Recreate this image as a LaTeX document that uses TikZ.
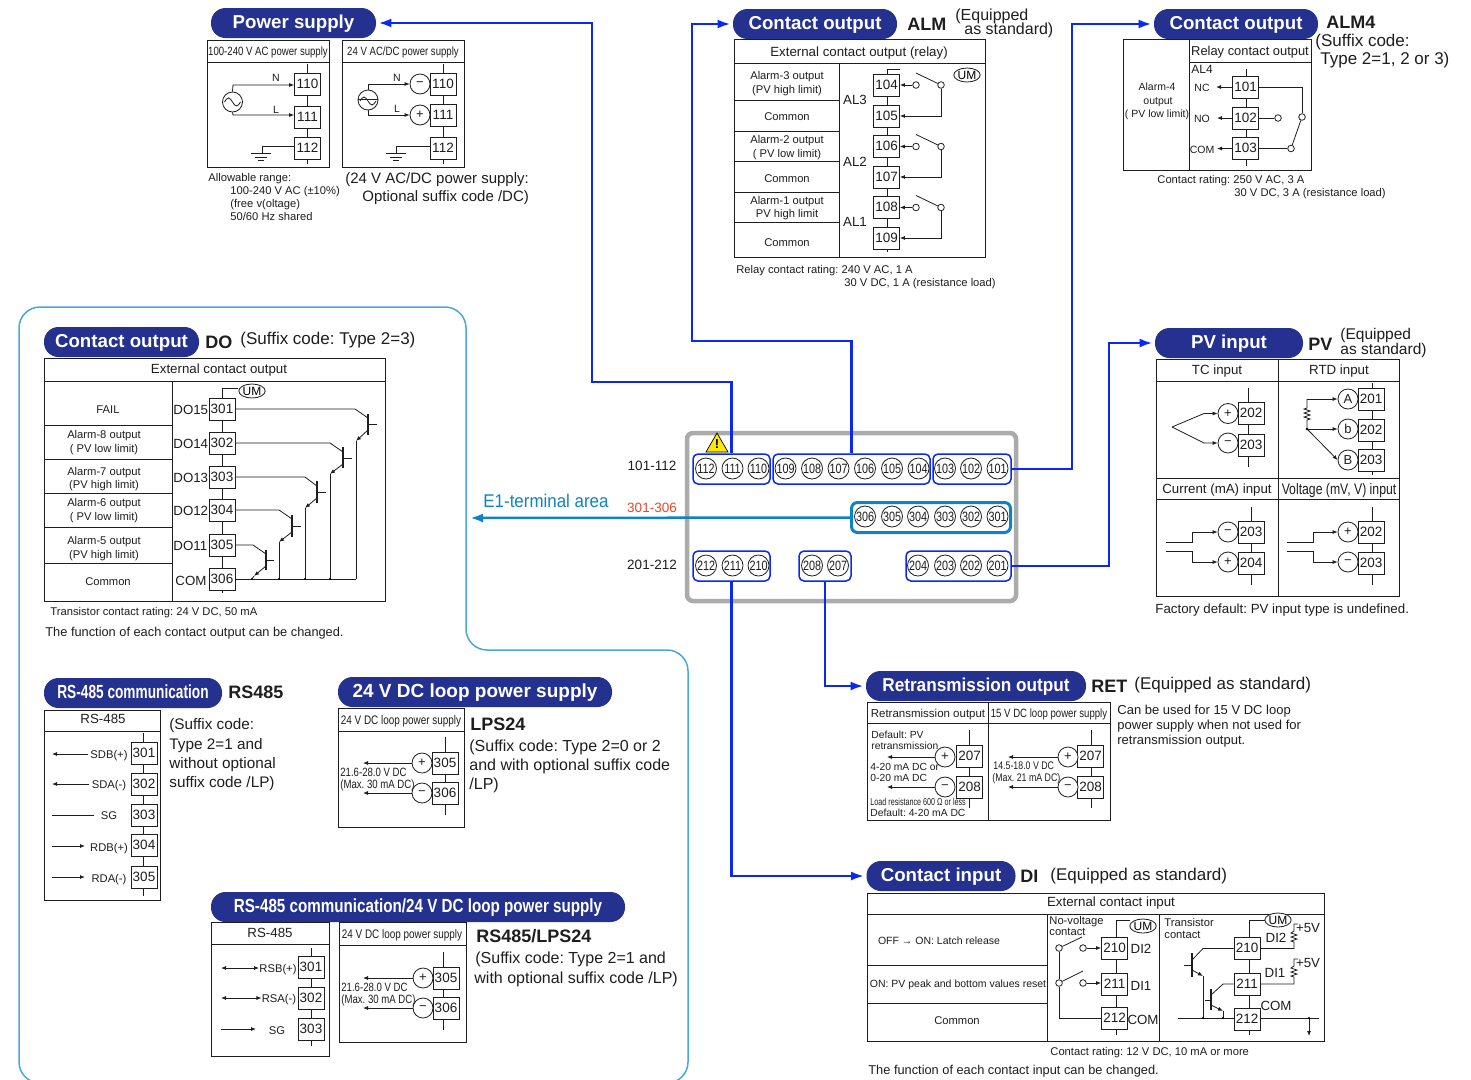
\documentclass[tikz,border=0pt]{standalone}
\usepackage{fontspec}
\setmainfont{Liberation Sans}
\newfontfamily\narrowfont[FakeStretch=0.8]{Liberation Sans}
\newfontfamily\semifont[FakeStretch=0.92]{Liberation Sans}
\newfontfamily\tightfont[FakeStretch=0.72]{Liberation Sans}
\usetikzlibrary{arrows.meta,shapes.geometric}
\frenchspacing
\definecolor{navy}{HTML}{24318F}
\definecolor{feedblue}{HTML}{0A28F0}
\definecolor{areablue}{HTML}{0F82C6}
\definecolor{edgeblue}{HTML}{4AA8D8}
\definecolor{inkgray}{HTML}{1E1E1E}
\definecolor{rimgray}{HTML}{ABABAB}
\definecolor{redlabel}{HTML}{E8472B}
\tikzset{
  fa/.style={font=\fontsize{10.5}{10.5}\selectfont},
  fb/.style={font=\fontsize{11.2}{11.2}\selectfont},
  fc/.style={font=\fontsize{13.3}{13.3}\selectfont},
  fd/.style={font=\fontsize{16}{16}\selectfont,text height=.95em},
  fe/.style={font=\fontsize{17}{17}\selectfont,text height=.95em},
  fn/.style={font=\fontsize{12}{12}\narrowfont},
  fh/.style={font=\fontsize{18}{18}\bfseries\selectfont,text height=1em},
  lab/.style={anchor=west,inner sep=0pt,text height=.8em,text depth=0pt,text=inkgray},
  mid/.style={inner sep=0pt,text height=.8em,text depth=0pt,text=inkgray},
  pill/.style={fill=navy,rounded corners=14.5pt,text=white,minimum height=30pt,inner sep=0pt,
    text height=1em,text depth=0pt,font=\fontsize{18.7}{18.7}\bfseries\selectfont},
  termbox/.style={draw,fill=white,minimum width=26pt,minimum height=22pt,inner sep=0pt,text=inkgray,
    text height=.85em,text depth=0pt,font=\fontsize{13.5}{13.5}\selectfont},
  pole/.style={draw,circle,fill=white,minimum size=20pt,inner sep=0pt,text=inkgray,
    font=\fontsize{13}{13}\selectfont},
  pin/.style={draw,circle,fill=white,minimum size=21pt,inner sep=0pt,text=inkgray,
    font=\fontsize{13.5}{13.5}\narrowfont},
  ring/.style={draw,circle,fill=white,minimum size=6.6pt,inner sep=0pt},
  um/.style={draw,ellipse,fill=white,minimum width=26pt,minimum height=14pt,inner sep=0pt,
    font=\fontsize{12}{12}\selectfont},
  arr/.style={-{Latex[length=5pt,width=4pt]}},
  bothway/.style={{Latex[length=5pt,width=4pt]}-{Latex[length=5pt,width=4pt]}},
  feed/.style={draw=feedblue,line width=2.5pt,-{Latex[length=13pt,width=9pt]},shorten >=2pt},
  grp/.style={draw=feedblue,line width=1.5pt,rounded corners=5pt,inner sep=0pt,minimum height=30pt},
}
\begin{document}
\begin{tikzpicture}[x=1pt,y=-1pt,line width=.8pt,draw=inkgray]
\useasboundingbox (0,0) rectangle (1471,1079);
\fill[white] (0,0) rectangle (1471,1079);

% outline of the optional block
\begin{scope}
\clip (0,0) rectangle (1471,1079);
\draw[edgeblue,line width=1.5pt,rounded corners=21pt] (19,1083) -- (19,307) -- (466,307) -- (466,650) -- (688,650) -- (688,1083) -- cycle;
\end{scope}

% heads
\node[pill,minimum width=165pt] (pillPower) at (293.5,23) {Power supply};
\node[pill,minimum width=164pt] (pillAlm) at (815,24) {Contact output};
\node[pill,minimum width=164pt] (pillAlmF) at (1236,24) {Contact output};
\node[pill,minimum width=155pt] (pillDo) at (121.5,342) {Contact output};
\node[pill,minimum width=148pt] (pillPv) at (1229,343) {PV input};
\node[pill,minimum width=178pt,font=\fontsize{19}{19}\bfseries\tightfont] (pillRs) at (133,693) {RS-485 communication};
\node[pill,minimum width=274pt,font=\fontsize{19}{19}\bfseries\selectfont] (pillLoop) at (475,692) {24 V DC loop power supply};
\node[pill,minimum width=414pt,font=\fontsize{19}{19}\bfseries\narrowfont] (pillRsLoop) at (418,907) {RS-485 communication/24 V DC loop power supply};
\node[pill,minimum width=220pt,font=\fontsize{18.7}{18.7}\bfseries\semifont] (pillRet) at (976,686) {Retransmission output};
\node[pill,minimum width=149pt] (pillDi) at (941,876) {Contact input};

% terminal block
\draw[rimgray,line width=4.5pt,fill=white,rounded corners=6pt] (687,433) rectangle (1016,601);
\fill[yellow!90!orange,draw=black,line width=.7pt] (717,433) -- (728,452) -- (706,452) -- cycle;
\node[inner sep=0pt,font=\fontsize{13}{13}\bfseries\selectfont] (warnMark) at (717,444) {!};

\node[grp,minimum width=77pt] (grpA) at (731.5,469) {};
\node[grp,minimum width=157pt] (grpB) at (851.5,469) {};
\node[grp,minimum width=78pt] (grpC) at (972,469) {};
\node[draw=areablue,line width=3pt,rounded corners=6pt,inner sep=0pt,minimum height=30pt,minimum width=159pt] (grpD) at (931,517.5) {};
\node[grp,minimum width=77pt] (grpE) at (731.5,566) {};
\node[grp,minimum width=52pt] (grpF) at (825,566) {};
\node[grp,minimum width=105pt] (grpG) at (958.5,566) {};

\node[pin] (p112) at (706,468.5) {112};
\node[pin] (p111) at (732.5,468.5) {111};
\node[pin] (p110) at (758.5,468.5) {110};
\node[pin] (p109) at (785.5,468.5) {109};
\node[pin] (p108) at (812,468.5) {108};
\node[pin] (p107) at (838.5,468.5) {107};
\node[pin] (p106) at (865,468.5) {106};
\node[pin] (p105) at (892,468.5) {105};
\node[pin] (p104) at (918.5,468.5) {104};
\node[pin] (p103) at (945,468.5) {103};
\node[pin] (p102) at (971,468.5) {102};
\node[pin] (p101) at (997.5,468.5) {101};
\node[pin] (p306) at (865,516.5) {306};
\node[pin] (p305) at (892,516.5) {305};
\node[pin] (p304) at (918,516.5) {304};
\node[pin] (p303) at (945,516.5) {303};
\node[pin] (p302) at (971,516.5) {302};
\node[pin] (p301) at (997.5,516.5) {301};
\node[pin] (p212) at (706,565.5) {212};
\node[pin] (p211) at (732.5,565.5) {211};
\node[pin] (p210) at (758.5,565.5) {210};
\node[pin] (p208) at (812,565.5) {208};
\node[pin] (p207) at (838,565.5) {207};
\node[pin] (p204) at (918,565.5) {204};
\node[pin] (p203) at (945,565.5) {203};
\node[pin] (p202) at (971,565.5) {202};
\node[pin] (p201) at (997.5,565.5) {201};

\node[mid,font=\fontsize{13.5}{13.5}\selectfont] (rowOne) at (652,466) {101-112};
\node[mid,font=\fontsize{13.5}{13.5}\selectfont,text=redlabel] (rowTwo) at (652,508) {301-306};
\node[mid,font=\fontsize{13.5}{13.5}\selectfont] (rowThree) at (652,565) {201-212};
\node[mid,font=\fontsize{18.4}{18.4}\semifont,text=areablue] (areaName) at (546,503) {E1-terminal area};

% feeds
\draw[feed] (grpA.north) |- (592,382) |- (pillPower.east);
\draw[feed] (grpB.north) |- (692,341) |- (pillAlm.west);
\draw[feed] (grpC.east) -| (1072,300) |- (pillAlmF.west);
\draw[feed] (grpG.east) -| (1109,400) |- (pillPv.west);
\draw[feed] (grpF.south) |- (pillRet.west);
\draw[feed] (grpE.south) |- (pillDi.west);
\draw[areablue,line width=2.5pt,-{Latex[length=13pt,width=9pt]}] (grpD.west) -- (470,518);

% power supply
\draw (207,40) rectangle (329,167);
\draw (207,62) -- (329,62);
\draw (342,40) rectangle (464,167);
\draw (342,62) -- (464,62);
\node[mid,fn] (pwrHeadA) at (268,51) {100-240 V AC power supply};
\node[mid,fn] (pwrHeadB) at (403,51) {24 V AC/DC power supply};
\draw (307,64) -- (307,164);
\draw (443,64) -- (443,164);
\node[termbox] (pwrA110) at (307.5,84) {110};
\node[termbox] (pwrA111) at (307.5,117) {111};
\node[termbox] (pwrA112) at (307.5,148) {112};
\node[termbox] (pwrB110) at (443,84) {110};
\node[termbox] (pwrB111) at (443,115) {111};
\node[termbox] (pwrB112) at (443,148) {112};
\node[pole] (pwrMinus) at (420,84) {−};
\node[pole] (pwrPlus) at (420,115) {+};
\node[pole] (srcA) at (232.5,102) {};
\node[pole] (srcB) at (368,100) {};
\draw (224.5,102) sin (228.5,98) cos (232.5,102) sin (236.5,106) cos (240.5,102);
\draw (360,101) sin (364,97) cos (368,101) sin (372,105) cos (376,101);
\draw (358,99) -- (378,99);
\draw[arr] (srcA.north) -- (233,85) -- (pwrA110.west |- 233,85);
\draw[arr] (srcA.south) -- (233,115) -- (pwrA111.west |- 233,115);
\draw[arr] (srcB.north) -- (368,84) -- (pwrMinus.west);
\draw[arr] (srcB.south) -- (368,115) -- (pwrPlus.west);
\node[mid,fa] (lblNa) at (276,77) {N};
\node[mid,fa] (lblLa) at (276,109) {L};
\node[mid,fa] (lblNb) at (397,77) {N};
\node[mid,fa] (lblLb) at (397,108) {L};
\draw (pwrA112.west |- 294,146) -- (262,146) -- (262,153);
\draw (251,153) -- (271,153);
\draw (255,157) -- (267,157);
\draw (258,160) -- (264,160);
\draw (pwrB112.west |- 430,146) -- (396,146) -- (396,153);
\draw (386,153) -- (406,153);
\draw (390,157) -- (402,157);
\draw (393,160) -- (399,160);
\node[lab,fb] (pwrNoteA) at (208,177) {Allowable range:};
\node[lab,fb] (pwrNoteB) at (230,190) {100-240 V AC (±10\%)};
\node[lab,fb] (pwrNoteC) at (230,203) {(free v(oltage)};
\node[lab,fb] (pwrNoteD) at (230,216) {50/60 Hz shared};
\node[lab,font=\fontsize{15}{15}\selectfont] (pwrNoteE) at (345,179) {(24 V AC/DC power supply:};
\node[lab,font=\fontsize{15}{15}\selectfont] (pwrNoteF) at (362,197) {Optional suffix code /DC)};

% alarm outputs
\node[lab,fh] (almName) at (907,25) {ALM};
\node[lab,font=\fontsize{16}{16}\selectfont] (almNoteA) at (955,16) {(Equipped};
\node[lab,font=\fontsize{16}{16}\selectfont] (almNoteB) at (964,30) {as standard)};
\draw (734,39) rectangle (985,257);
\draw (734,63) -- (985,63);
\draw (839,63) -- (839,257);
\draw (734,100) -- (839,100);
\draw (734,131) -- (839,131);
\draw (734,161) -- (839,161);
\draw (734,192) -- (839,192);
\draw (734,222) -- (839,222);
\node[mid,fc] (almHead) at (859,52) {External contact output (relay)};
\node[mid,fb] (almRowA) at (787,75) {Alarm-3 output};
\node[mid,fb] (almRowB) at (787,89) {(PV high limit)};
\node[mid,fb] (almRowC) at (787,116) {Common};
\node[mid,fb] (almRowD) at (787,139) {Alarm-2 output};
\node[mid,fb] (almRowE) at (787,153) {( PV low limit)};
\node[mid,fb] (almRowF) at (787,178) {Common};
\node[mid,fb] (almRowG) at (787,200) {Alarm-1 output};
\node[mid,fb] (almRowH) at (787,213) {PV high limit};
\node[mid,fb] (almRowI) at (787,242) {Common};
\node[mid,fc] (lblAlThree) at (855,100) {AL3};
\node[mid,fc] (lblAlTwo) at (855,162) {AL2};
\node[mid,fc] (lblAlOne) at (855,222) {AL1};
\draw (900,69) -- (887,69) -- (887,252);
\node[termbox] (t104) at (886.5,85) {104};
\node[termbox] (t105) at (886.5,116) {105};
\node[termbox] (t106) at (886.5,146.5) {106};
\node[termbox] (t107) at (886.5,177) {107};
\node[termbox] (t108) at (886.5,207.5) {108};
\node[termbox] (t109) at (886.5,238) {109};
\node[um] (umAlm) at (967,75) {UM};
\node[ring] (swAa) at (916,85) {};
\node[ring] (swAb) at (941,85) {};
\node[ring] (swBa) at (916,146.5) {};
\node[ring] (swBb) at (941,146.5) {};
\node[ring] (swCa) at (916,207.5) {};
\node[ring] (swCb) at (941,207.5) {};
\draw[arr] (swAa) -- (t104);
\draw[arr] (swBa) -- (t106);
\draw[arr] (swCa) -- (t108);
\draw[arr] (swAb.south) |- (t105.east);
\draw[arr] (swBb.south) |- (t107.east);
\draw[arr] (swCb.south) |- (t109.east);
\draw (916,73) -- (swAb);
\draw (916,134.5) -- (swBb);
\draw (916,195.5) -- (swCb);
\node[lab,fb] (almFootA) at (736,269) {Relay contact rating: 240 V AC, 1 A};
\node[lab,fb] (almFootB) at (844,282) {30 V DC, 1 A (resistance load)};

% alarm 4
\node[lab,fh] (almFName) at (1326,23) {ALM4};
\node[lab,font=\fontsize{17}{17}\selectfont] (almFNoteA) at (1315,42) {(Suffix code:};
\node[lab,font=\fontsize{17}{17}\selectfont] (almFNoteB) at (1320,60) {Type 2=1, 2 or 3)};
\draw (1123,39) rectangle (1311,170);
\draw (1189,39) -- (1189,170);
\draw (1189,62) -- (1311,62);
\node[mid,font=\fontsize{12.9}{12.9}\selectfont] (almFHead) at (1250,51) {Relay contact output};
\node[lab,font=\fontsize{12}{12}\selectfont] (lblAlFour) at (1191,69) {AL4};
\node[mid,fa] (almFRowA) at (1157,86) {Alarm-4};
\node[mid,fa] (almFRowB) at (1158,100) {output};
\node[mid,fa] (almFRowC) at (1157,113) {( PV low limit)};
\node[mid,fa] (lblNc) at (1202,87) {NC};
\node[mid,fa] (lblNo) at (1202,118) {NO};
\node[mid,fa] (lblCom) at (1202,149) {COM};
\draw (1246,69) -- (1246,166);
\node[termbox] (t101) at (1245.5,87) {101};
\node[termbox] (t102) at (1245.5,118) {102};
\node[termbox] (t103) at (1245.5,148.5) {103};
\draw[arr] (t101.west) -- (1216,87);
\draw[arr] (t102.west) -- (1217,118);
\draw[arr] (t103.west) -- (1217,148.5);
\node[ring] (swDa) at (1302,117) {};
\node[ring] (swDb) at (1278,118) {};
\node[ring] (swDc) at (1291,148.5) {};
\draw (t101.east) -| (swDa.north);
\draw (t102.east) -- (swDb);
\draw (t103.east) -- (swDc);
\draw (swDc) -- (swDa);
\node[lab,fb] (almFFootA) at (1157,179) {Contact rating: 250 V AC, 3 A};
\node[lab,fb] (almFFootB) at (1234,192) {30 V DC, 3 A (resistance load)};

% PV input
\node[lab,fh] (pvName) at (1308,345) {PV};
\node[lab,font=\fontsize{15.5}{15.5}\selectfont] (pvNoteA) at (1340,335) {(Equipped};
\node[lab,font=\fontsize{15.5}{15.5}\selectfont] (pvNoteB) at (1340,350) {as standard)};
\draw (1156,359) rectangle (1399,596);
\draw (1278,359) -- (1278,596);
\draw (1156,381) -- (1399,381);
\draw (1156,478) -- (1399,478);
\draw (1156,499) -- (1399,499);
\node[mid,fc] (pvHeadA) at (1217,370) {TC input};
\node[mid,fc] (pvHeadB) at (1339,370) {RTD input};
\node[mid,fc] (pvHeadC) at (1217,489) {Current (mA) input};
\node[mid,font=\fontsize{15.3}{15.3}\narrowfont] (pvHeadD) at (1339,490) {Voltage (mV, V) input};
\draw (1248.5,388) -- (1248.5,467);
\draw (1372,383) -- (1372,475);
\draw (1251,507) -- (1251,585);
\draw (1372,507) -- (1372,585);
\node[termbox] (tcA) at (1251,413.5) {202};
\node[termbox] (tcB) at (1251,445) {203};
\node[termbox] (rtA) at (1371,399) {201};
\node[termbox] (rtB) at (1371,430) {202};
\node[termbox] (rtC) at (1371,460) {203};
\node[termbox] (maA) at (1251,532) {203};
\node[termbox] (maB) at (1251,563) {204};
\node[termbox] (vlA) at (1371,532) {202};
\node[termbox] (vlB) at (1371,563) {203};
\node[pole] (tcPlus) at (1228,413.5) {+};
\node[pole] (tcMinus) at (1228,443) {−};
\node[pole] (rtCa) at (1348,399) {A};
\node[pole] (rtCb) at (1348,429) {b};
\node[pole] (rtCc) at (1348,460) {B};
\node[pole] (maMinus) at (1228,532) {−};
\node[pole] (maPlus) at (1228,562) {+};
\node[pole] (vlPlus) at (1348,532) {+};
\node[pole] (vlMinus) at (1348,562) {−};
\coordinate (tcTip) at (1172,427);
\coordinate (rtNode) at (1307,429);
\draw[arr] (tcTip) -- (1204,413.5) -- (tcPlus.west);
\draw[arr] (tcTip) -- (1204,443) -- (tcMinus.west);
\draw[arr] (rtCa.west -| rtNode) -- (rtCa.west);
\draw (1307,399) -- (1307,408) -- (1304,409) -- (1310,411) -- (1304,413) -- (1310,415) -- (1304,417) -- (1310,419) -- (1307,420) -- (rtNode);
\draw[arr] (rtNode) -- (rtCb.west);
\draw[arr] (rtNode) -- (rtCc.west);
\fill (rtNode) circle (1.3pt);
\draw[arr] (1166,542) -- (1192,542) -- (1192,532) -- (maMinus.west);
\draw[arr] (1166,551) -- (1192,551) -- (1192,562) -- (maPlus.west);
\draw[arr] (1287,542) -- (1313,542) -- (1313,532) -- (vlPlus.west);
\draw[arr] (1287,551) -- (1313,551) -- (1313,562) -- (vlMinus.west);
\node[lab,fc] (pvFoot) at (1155,609) {Factory default: PV input type is undefined.};

% retransmission
\node[lab,fh] (retName) at (1091,687) {RET};
\node[lab,fe] (retNote) at (1134,685) {(Equipped as standard)};
\node[lab,font=\fontsize{13}{13}\selectfont] (retTextA) at (1117,710) {Can be used for 15 V DC loop};
\node[lab,font=\fontsize{13}{13}\selectfont] (retTextB) at (1117,725) {power supply when not used for};
\node[lab,font=\fontsize{13}{13}\selectfont] (retTextC) at (1117,740) {retransmission output.};
\draw (867,702) rectangle (1110,820);
\draw (988,702) -- (988,820);
\draw (867,723) -- (1110,723);
\node[mid,font=\fontsize{11.5}{11.5}\selectfont] (retHeadA) at (928,713) {Retransmission output};
\node[mid,fn] (retHeadB) at (1049,713) {15 V DC loop power supply};
\draw (969,730) -- (969,808);
\draw (1091,730) -- (1091,808);
\node[termbox] (retA207) at (969.5,756.5) {207};
\node[termbox] (retA208) at (969.5,787) {208};
\node[termbox] (retB207) at (1090.5,756.5) {207};
\node[termbox] (retB208) at (1090.5,787) {208};
\node[pole] (retPlusA) at (945,757) {+};
\node[pole] (retMinusA) at (945,787) {−};
\node[pole] (retPlusB) at (1068,757) {+};
\node[pole] (retMinusB) at (1068,787) {−};
\draw[arr] (retPlusA.west) -- (887,757);
\draw[arr] (retMinusA.west) -- (887,787);
\draw[arr] (retPlusB.west) -- (1008,757);
\draw[arr] (retMinusB.west) -- (1008,787);
\node[lab,font=\fontsize{10.3}{10.3}\selectfont] (retLblA) at (871,734) {Default: PV};
\node[lab,font=\fontsize{10.3}{10.3}\selectfont] (retLblB) at (871,745) {retransmission};
\node[lab,font=\fontsize{10.3}{10.3}\selectfont] (retLblC) at (870,766) {4-20 mA DC or};
\node[lab,font=\fontsize{10.3}{10.3}\selectfont] (retLblD) at (870,777) {0-20 mA DC};
\node[lab,font=\fontsize{10}{10}\tightfont] (retLblE) at (870,801) {Load resistance 600 Ω or less};
\node[lab,font=\fontsize{10.3}{10.3}\selectfont] (retLblF) at (870,812) {Default: 4-20 mA DC};
\node[lab,font=\fontsize{11}{11}\narrowfont] (retLblG) at (993,765) {14.5-18.0 V DC};
\node[lab,font=\fontsize{11}{11}\narrowfont] (retLblH) at (992,777) {(Max. 21 mA DC)};

% contact input
\node[lab,fh] (diName) at (1020,877) {DI};
\node[lab,fe] (diNote) at (1050,876) {(Equipped as standard)};
\draw (867,893) rectangle (1324,1041);
\draw (867,914) -- (1324,914);
\draw (1047,914) -- (1047,1041);
\draw (1159,914) -- (1159,1041);
\draw (867,965) -- (1047,965);
\draw (867,1003) -- (1047,1003);
\node[mid,fc] (diHead) at (1111,902) {External contact input};
\node[mid,fa] (diRowA) at (939,940) {OFF → ON: Latch release};
\node[mid,fa] (diRowB) at (958,983) {ON: PV peak and bottom values reset};
\node[mid,fb] (diRowC) at (957,1020) {Common};
\node[lab,fb] (diKindA) at (1049,920) {No-voltage};
\node[lab,fb] (diKindB) at (1049,931) {contact};
\node[lab,fb] (diKindC) at (1164,922) {Transistor};
\node[lab,fb] (diKindD) at (1164,934) {contact};
\draw (1130,920) -- (1116,920) -- (1116,1035);
\draw (1265,920) -- (1249,920) -- (1249,1035);
\node[termbox] (diA210) at (1114.5,948.5) {210};
\node[termbox] (diA211) at (1114.5,984) {211};
\node[termbox] (diA212) at (1114.5,1018) {212};
\node[termbox] (diB210) at (1247,948.5) {210};
\node[termbox] (diB211) at (1247,984) {211};
\node[termbox] (diB212) at (1247,1019) {212};
\node[um] (umDiA) at (1143,926) {UM};
\node[um] (umDiB) at (1278,920) {UM};
\node[mid,fc] (lblDiTwo) at (1141,949) {DI2};
\node[mid,fc] (lblDiOne) at (1141,986) {DI1};
\node[mid,fc] (lblDiCom) at (1143,1020) {COM};
\node[mid,fc] (lblDiTwoB) at (1276,938) {DI2};
\node[mid,fc] (lblDiOneB) at (1275,973) {DI1};
\node[mid,fc] (lblDiComB) at (1276,1006) {COM};
\node[mid,fc] (lblFiveA) at (1308,928) {+5V};
\node[mid,fc] (lblFiveB) at (1308,963) {+5V};
\node[ring] (swEa) at (1059,948) {};
\node[ring] (swEb) at (1083,948) {};
\node[ring] (swFa) at (1059,983) {};
\node[ring] (swFb) at (1083,983) {};
\draw[arr] (swEb) -- (diA210.west |- swEb);
\draw[arr] (swFb) -- (diA211.west |- swFb);
\draw (swEa) -- (1082,937);
\draw (swFa) -- (1083,971);
\draw (swEa) -- (swFa);
\draw (swFa.south) |- (diA212.west);
% transistors
\draw (diB210.east) -- (1294,948.5) -- (1294,942) -- (1291,941) -- (1297,939) -- (1291,937) -- (1297,935) -- (1291,933) -- (1294,931) -- (1294,924) -- (1298,924);
\draw (diB211.east) -- (1294,984) -- (1294,977) -- (1291,976) -- (1297,974) -- (1291,972) -- (1297,970) -- (1291,968) -- (1294,966) -- (1294,959) -- (1298,959);
\draw[line width=1.1pt] (1192,953) -- (1192,977);
\draw (1184,965) -- (1192,965);
\draw (diB210.west) -- (1203,948.5) -- (1192,960);
\draw[arr] (1192,970) -- (1203,976);
\draw (1203,976) -- (1203,1018);
\draw[line width=1.1pt] (1211,989) -- (1211,1010);
\draw (1205,1000) -- (1211,1000);
\draw (diB211.west) -- (1223,984) -- (1211,995);
\draw[arr] (1211,1005) -- (1223,1011);
\draw (1223,1011) -- (1223,1018);
\draw (1178,1018) -- (diB212.west |- 1178,1018);
\draw (diB212.east |- 1178,1018) -- (1319,1018);
\draw[arr] (1309,1018) -- (1309,1036);
\fill (1203,1018) circle (1.2pt);
\fill (1223,1018) circle (1.2pt);
\fill (1309,1018) circle (1.2pt);
\node[lab,fb] (diFootA) at (1050,1051) {Contact rating: 12 V DC, 10 mA or more};
\node[lab,font=\fontsize{12.8}{12.8}\selectfont] (diFootB) at (868,1070) {The function of each contact input can be changed.};

% contact output DO
\node[lab,fh] (doName) at (205,343) {DO};
\node[lab,fe] (doNote) at (240,340) {(Suffix code: Type 2=3)};
\draw (44,358) rectangle (385,601);
\draw (172,381) -- (172,601);
\draw (44,381) -- (385,381);
\draw (44,425) -- (172,425);
\draw (44,459) -- (172,459);
\draw (44,493) -- (172,493);
\draw (44,527) -- (172,527);
\draw (44,563) -- (172,563);
\node[mid,fc] (doHead) at (219,369) {External contact output};
\node[mid,fb] (doRowA) at (108,409) {FAIL};
\node[mid,fb] (doRowB) at (104,434) {Alarm-8 output};
\node[mid,fb] (doRowC) at (104,448) {( PV low limit)};
\node[mid,fb] (doRowD) at (104,471) {Alarm-7 output};
\node[mid,fb] (doRowE) at (104,484) {(PV high limit)};
\node[mid,fb] (doRowF) at (104,502) {Alarm-6 output};
\node[mid,fb] (doRowG) at (104,516) {( PV low limit)};
\node[mid,fb] (doRowH) at (104,540) {Alarm-5 output};
\node[mid,fb] (doRowI) at (104,554) {(PV high limit)};
\node[mid,fb] (doRowJ) at (108,581) {Common};
\node[lab,fc] (lblDoA) at (173,410) {DO15};
\node[lab,fc] (lblDoB) at (173,444) {DO14};
\node[lab,fc] (lblDoC) at (173,478) {DO13};
\node[lab,fc] (lblDoD) at (173,511) {DO12};
\node[lab,fc] (lblDoE) at (173,546) {DO11};
\node[lab,fc] (lblDoF) at (175,581) {COM};
\draw (238,388) -- (222,388) -- (222,593);
\node[termbox] (t301) at (222,409) {301};
\node[termbox] (t302) at (222,443) {302};
\node[termbox] (t303) at (222,477) {303};
\node[termbox] (t304) at (222,510) {304};
\node[termbox] (t305) at (222,545) {305};
\node[termbox] (t306) at (222,579) {306};
\node[um] (umDo) at (252,391) {UM};
\draw (t301.east) -- (355,409) -- (368,418);
\draw[line width=1.1pt] (368,414) -- (368,435);
\draw (368,424) -- (377,424);
\draw[arr] (368,430) -- (356,441);
\draw (356,441) -- (356,579);
\draw (t302.east) -- (330,443) -- (343,452);
\draw[line width=1.1pt] (343,447) -- (343,468);
\draw (343,458) -- (352,458);
\draw[arr] (343,464) -- (330,474);
\draw (330,474) -- (330,579);
\draw (t303.east) -- (305,477) -- (317,486);
\draw[line width=1.1pt] (317,481) -- (317,503);
\draw (317,492) -- (326,492);
\draw[arr] (317,498) -- (305,508);
\draw (305,508) -- (305,579);
\draw (t304.east) -- (279,510) -- (292,519);
\draw[line width=1.1pt] (292,515) -- (292,537);
\draw (292,526) -- (301,526);
\draw[arr] (292,532) -- (279,542);
\draw (279,542) -- (279,579);
\draw (t305.east) -- (253,545) -- (266,554);
\draw[line width=1.1pt] (266,550) -- (266,570);
\draw (266,560) -- (274,560);
\draw[arr] (266,566) -- (254,576);
\draw (254,576) -- (252,579);
\draw (t306.east) -- (356,579);
\fill (252,579) circle (1.2pt);
\fill (279,579) circle (1.2pt);
\fill (305,579) circle (1.2pt);
\fill (330,579) circle (1.2pt);
\node[lab,fb] (doFootA) at (50,611) {Transistor contact rating: 24 V DC, 50 mA};
\node[lab,font=\fontsize{12.8}{12.8}\selectfont] (doFootB) at (45,632) {The function of each contact output can be changed.};

% RS-485
\node[lab,fh] (rsName) at (228,693) {RS485};
\node[lab,font=\fontsize{15.3}{15.3}\selectfont] (rsNoteA) at (169,725) {(Suffix code:};
\node[lab,font=\fontsize{15.3}{15.3}\selectfont] (rsNoteB) at (169,745) {Type 2=1 and};
\node[lab,font=\fontsize{15.3}{15.3}\selectfont] (rsNoteC) at (169,764) {without optional};
\node[lab,font=\fontsize{15.3}{15.3}\selectfont] (rsNoteD) at (169,783) {suffix code /LP)};
\draw (44,710) rectangle (160,900);
\draw (44,731) -- (160,731);
\node[mid,fc] (rsHead) at (103,719) {RS-485};
\draw (143,733) -- (143,896);
\node[termbox] (rs301) at (144,753.5) {301};
\node[termbox] (rs302) at (144,784) {302};
\node[termbox] (rs303) at (144,815) {303};
\node[termbox] (rs304) at (144,845) {304};
\node[termbox] (rs305) at (144,877) {305};
\node[mid,fb] (rsLblA) at (109,754) {SDB(+)};
\node[mid,fb] (rsLblB) at (109,784) {SDA(-)};
\node[mid,fb] (rsLblC) at (109,815) {SG};
\node[mid,fb] (rsLblD) at (109,847) {RDB(+)};
\node[mid,fb] (rsLblE) at (109,878) {RDA(-)};
\draw[arr] (rsLblA.west) ++(-2,0) -- (52,754);
\draw[arr] (rsLblB.west) ++(-2,0) -- (52,784);
\draw (rsLblC.west) ++(-7,0) -- (52,815);
\draw[arr] (52,846) -- (85,846);
\draw[arr] (52,877) -- (85,877);

% loop supply
\node[lab,fh] (lpName) at (470,725) {LPS24};
\node[lab,fd] (lpNoteA) at (469,747) {(Suffix code: Type 2=0 or 2};
\node[lab,fd] (lpNoteB) at (469,766) {and with optional suffix code};
\node[lab,fd] (lpNoteC) at (469,785) {/LP)};
\draw (338,708) rectangle (464,827);
\draw (338,731) -- (464,731);
\node[mid,font=\fontsize{12.4}{12.4}\narrowfont] (lpHead) at (401,720) {24 V DC loop power supply};
\draw (445,737) -- (445,815);
\node[termbox] (lp305) at (445,763) {305};
\node[termbox] (lp306) at (445,793) {306};
\node[pole] (lpPlus) at (422,763) {+};
\node[pole] (lpMinus) at (422,793) {−};
\draw[arr] (lpPlus.west) -- (363,763);
\draw[arr] (lpMinus.west) -- (363,793);
\node[lab,fn] (lpLblA) at (340,772) {21.6-28.0 V DC};
\node[lab,fn] (lpLblB) at (340,784) {(Max. 30 mA DC)};

% RS-485 with loop supply
\node[lab,fh] (bothName) at (476,937) {RS485/LPS24};
\node[lab,fd] (bothNoteA) at (475,959) {(Suffix code: Type 2=1 and};
\node[lab,fd] (bothNoteB) at (474,979) {with optional suffix code /LP)};
\draw (211,922) rectangle (329,1056);
\draw (211,944) -- (329,944);
\node[mid,fc] (bothHeadA) at (270,933) {RS-485};
\draw (311,948) -- (311,1046);
\node[termbox] (both301) at (311,967.5) {301};
\node[termbox] (both302) at (311,998) {302};
\node[termbox] (both303) at (311,1029) {303};
\node[mid,fb] (bothLblA) at (278,968) {RSB(+)};
\node[mid,fb] (bothLblB) at (279,998) {RSA(-)};
\node[mid,fb] (bothLblC) at (277,1030) {SG};
\draw[bothway] (221,968) -- (bothLblA.west);
\draw[bothway] (221,998) -- (bothLblB.west);
\draw[arr] (221,1029) -- (256,1029);
\draw (339,922) rectangle (466,1042);
\draw (339,945) -- (466,945);
\node[mid,font=\fontsize{12.4}{12.4}\narrowfont] (bothHeadB) at (402,934) {24 V DC loop power supply};
\draw (443,952) -- (443,1030);
\node[termbox] (both305) at (446,978) {305};
\node[termbox] (both306) at (446,1008) {306};
\node[pole] (bothPlus) at (423,978) {+};
\node[pole] (bothMinus) at (423,1008) {−};
\draw[arr] (bothPlus.west) -- (363,978);
\draw[arr] (bothMinus.west) -- (363,1008);
\node[lab,fn] (bothLblD) at (341,987) {21.6-28.0 V DC};
\node[lab,fn] (bothLblE) at (341,999) {(Max. 30 mA DC)};
\end{tikzpicture}
\end{document}
